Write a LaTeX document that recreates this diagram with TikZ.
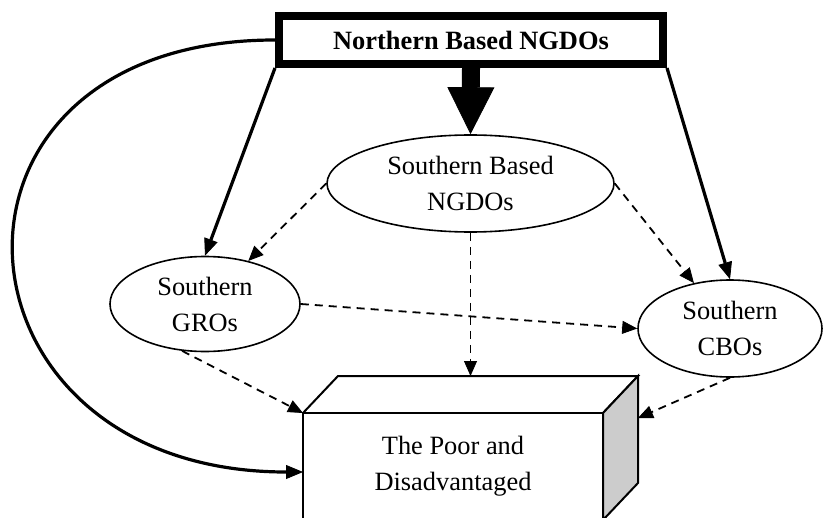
\documentclass[tikz,border=0pt]{standalone}
\usepackage{fontspec}
\setmainfont{Liberation Serif}
\usetikzlibrary{arrows.meta,shapes.geometric,positioning}

\tikzset{
  org/.style={draw, ellipse, line width=0.8pt, align=center, inner sep=0pt},
  solidarrow/.style={line width=1.6pt, -{Triangle[length=8.5pt,width=7pt,line width=0.4pt]}},
  dasharrow/.style={line width=0.9pt, dash pattern=on 4pt off 3pt, -{Triangle[length=7.5pt,width=6.5pt,line width=0.4pt]}},
  bigarrow/.style={line width=9pt, -{Triangle[length=23.5pt,width=23.5pt,line width=0.4pt]}},
  cubeline/.style={line width=1pt, line join=miter},
}

\begin{document}
\begin{tikzpicture}[x=0.5pt,y=-0.5pt,font=\fontsize{13.2}{18}\selectfont]
   \useasboundingbox (0,0) rectangle (823,518);
   % organisations
   \node[draw, line width=4pt, minimum width=192pt, minimum height=24pt, font=\fontsize{13.2}{18}\selectfont\bfseries] (north) at (471,40) {Northern Based NGDOs};
   \node[org, minimum width=143.5pt, minimum height=48.5pt] (sbn) at (470.5,183.5) {Southern Based\\NGDOs};
   \node[org, minimum width=95pt, minimum height=47.5pt] (gro) at (205,304) {Southern\\GROs};
   \node[org, minimum width=92pt, minimum height=48.5pt] (cbo) at (730,328.5) {Southern\\CBOs};
   % the box
   \node[draw, cubeline, outer sep=0pt, inner sep=0pt, align=center, minimum width=150pt, minimum height=53.5pt] (poor) at (453,466.5) {The Poor and\\Disadvantaged};
   \coordinate (backl) at ([shift={(35,-37)}]poor.north west);
   \coordinate (backr) at ([shift={(35,-37)}]poor.north east);
   \coordinate (backb) at ([shift={(35,-37)}]poor.south east);
   \draw[cubeline] (poor.north west) -- (backl) -- (backr) -- (poor.north east);
   \draw[cubeline, fill=black!20] (poor.north east) -- (backr) -- (backb) -- (poor.south east) -- cycle;
   % connectors
   \draw[bigarrow] (north.south) -- (sbn.north);
   \draw[solidarrow] (north.south west) -- (gro.north);
   \draw[solidarrow] (north.south east) -- (cbo.north);
   \draw[solidarrow] (north.west) .. controls +(-366,0) and +(-366,0) .. ([yshift=-2.75pt]poor.west);
   \draw[dasharrow] (sbn.west) -- (gro);
   \draw[dasharrow] (sbn.east) -- (cbo);
   \draw[dasharrow] (sbn.south) -- (sbn.south |- backl);
   \draw[dasharrow] (gro.east) -- (cbo.west);
   \draw[dasharrow] (gro.244) -- (poor.north west);
   \draw[dasharrow] (cbo.south) -- ([yshift=-21pt]backr);
\end{tikzpicture}
\end{document}
